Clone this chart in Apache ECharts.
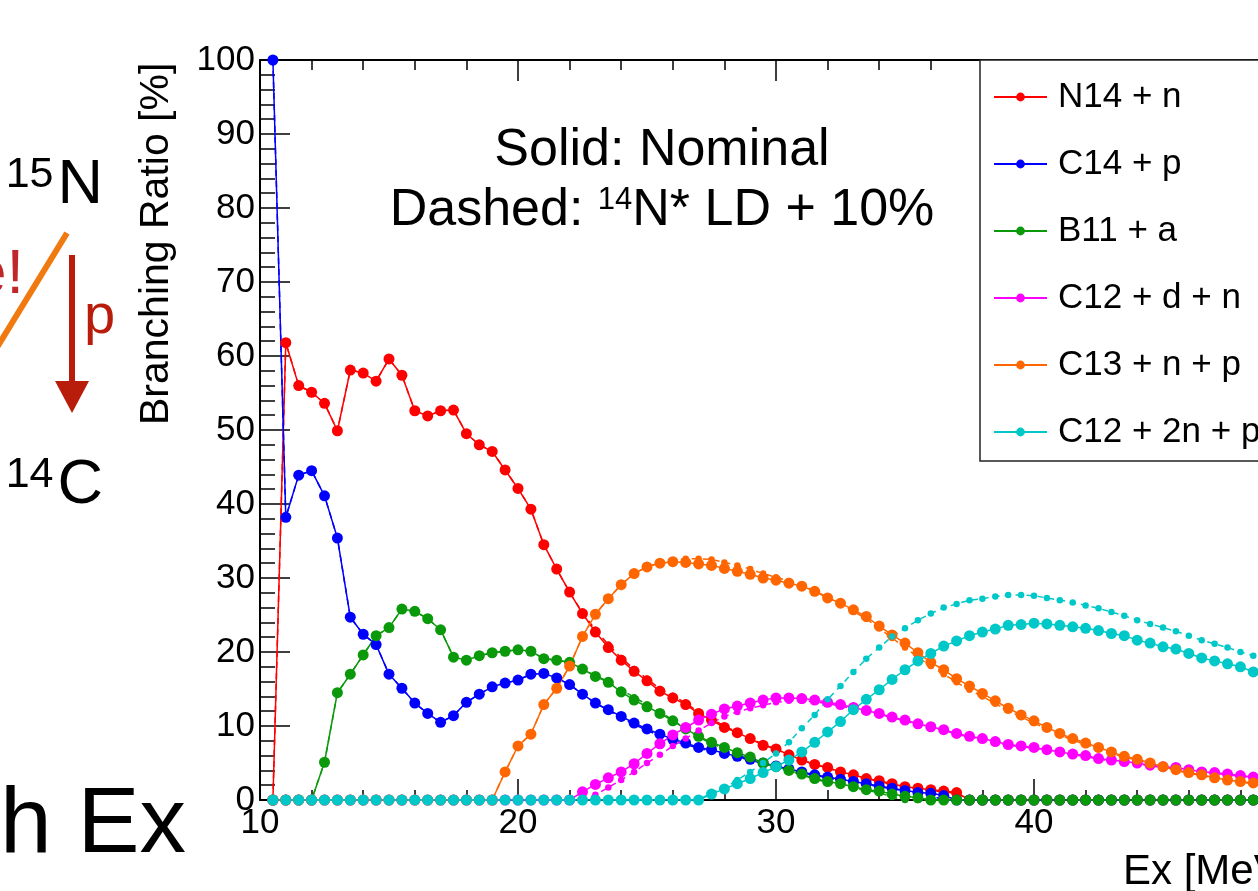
<!DOCTYPE html>
<html lang="en">
<head>
<meta charset="UTF-8">
<title>Branching Ratio vs Ex</title>
<style>
  html, body { margin: 0; padding: 0; background: #fff; }
  #main { width: 1258px; height: 891px; }
</style>
</head>
<body>
<div id="main"></div>

<script src="https://cdn.jsdelivr.net/npm/echarts@6/dist/echarts.min.js"></script>
<script>
// excitation energy [MeV], one point every 0.5 MeV
var energy = [
  10.5, 11, 11.5, 12, 12.5, 13, 13.5, 14, 14.5, 15,
  15.5, 16, 16.5, 17, 17.5, 18, 18.5, 19, 19.5, 20,
  20.5, 21, 21.5, 22, 22.5, 23, 23.5, 24, 24.5, 25,
  25.5, 26, 26.5, 27, 27.5, 28, 28.5, 29, 29.5, 30,
  30.5, 31, 31.5, 32, 32.5, 33, 33.5, 34, 34.5, 35,
  35.5, 36, 36.5, 37, 37.5, 38, 38.5, 39, 39.5, 40,
  40.5, 41, 41.5, 42, 42.5, 43, 43.5, 44, 44.5, 45,
  45.5, 46, 46.5, 47, 47.5, 48, 48.5, 49
];

// ---- solid: nominal ----
var n14n = [
  0, 61.8, 56.0, 55.1, 53.6, 49.9, 58.1, 57.7, 56.6, 59.6,
  57.4, 52.6, 51.9, 52.6, 52.7, 49.5, 48.0, 47.1, 44.6, 42.1,
  39.3, 34.5, 31.2, 28.1, 25.2, 22.7, 20.6, 18.9, 17.4, 16.1,
  14.7, 13.8, 12.9, 11.7, 10.8, 9.8, 9.1, 8.3, 7.4, 6.9,
  6.1, 5.4, 4.8, 4.4, 3.8, 3.4, 2.9, 2.6, 2.2, 1.8,
  1.6, 1.4, 1.2, 1.0, 0, 0, 0, 0, 0, 0,
  0, 0, 0, 0, 0, 0, 0, 0, 0, 0,
  0, 0, 0, 0, 0, 0, 0, 0
];
var c14p = [
  100, 38.2, 43.9, 44.5, 41.1, 35.4, 24.7, 22.4, 21.0, 17.0,
  15.1, 13.1, 11.7, 10.5, 11.4, 13.2, 14.3, 15.3, 15.8, 16.2,
  17.0, 17.1, 16.5, 15.6, 14.3, 13.1, 12.2, 11.3, 10.4, 9.6,
  8.9, 8.2, 7.7, 7.1, 6.8, 6.3, 5.9, 5.5, 5.0, 4.6,
  4.2, 3.8, 3.4, 3.1, 2.8, 2.5, 2.2, 1.9, 1.6, 1.3,
  1.0, 0.9, 0.6, 0, 0, 0, 0, 0, 0, 0,
  0, 0, 0, 0, 0, 0, 0, 0, 0, 0,
  0, 0, 0, 0, 0, 0, 0, 0
];
var b11a = [
  0, 0, 0, 0, 5.1, 14.5, 17.0, 19.6, 22.2, 23.3,
  25.8, 25.5, 24.5, 23.0, 19.3, 18.9, 19.5, 19.9, 20.1, 20.3,
  20.1, 19.1, 18.9, 18.6, 17.7, 16.7, 15.9, 14.6, 13.5, 12.6,
  11.7, 10.7, 9.6, 8.6, 7.8, 7.1, 6.4, 5.8, 5.0, 4.5,
  4.0, 3.5, 2.9, 2.5, 2.2, 1.8, 1.4, 1.2, 0.8, 0.5,
  0.3, 0, 0, 0, 0, 0, 0, 0, 0, 0,
  0, 0, 0, 0, 0, 0, 0, 0, 0, 0,
  0, 0, 0, 0, 0, 0, 0, 0
];
var c12dn = [
  0, 0, 0, 0, 0, 0, 0, 0, 0, 0,
  0, 0, 0, 0, 0, 0, 0, 0, 0, 0,
  0, 0, 0, 0, 1.1, 2.1, 3.0, 3.8, 4.9, 6.3,
  7.6, 8.8, 9.8, 10.8, 11.6, 12.3, 12.7, 13.1, 13.5, 13.8,
  13.8, 13.7, 13.5, 13.2, 12.9, 12.5, 12.1, 11.7, 11.2, 10.8,
  10.3, 9.9, 9.5, 9.0, 8.6, 8.3, 7.9, 7.5, 7.3, 7.1,
  6.8, 6.5, 6.2, 6.0, 5.6, 5.4, 5.2, 5.0, 4.7, 4.5,
  4.4, 4.1, 3.8, 3.7, 3.5, 3.3, 3.1, 2.9
];
var c13np = [
  0, 0, 0, 0, 0, 0, 0, 0, 0, 0,
  0, 0, 0, 0, 0, 0, 0, 0, 3.8, 7.3,
  8.9, 12.9, 15.1, 18.1, 22.1, 25.1, 27.2, 29.1, 30.6, 31.5,
  32.0, 32.2, 32.1, 31.9, 31.7, 31.3, 30.9, 30.5, 30.0, 29.7,
  29.3, 28.9, 28.2, 27.3, 26.6, 25.7, 24.8, 23.5, 22.3, 21.2,
  19.9, 18.6, 17.6, 16.4, 15.4, 14.4, 13.4, 12.4, 11.5, 10.7,
  9.8, 9.0, 8.3, 7.7, 7.1, 6.5, 5.9, 5.5, 5.0, 4.5,
  4.1, 3.7, 3.4, 3.0, 2.7, 2.5, 2.3, 2.1
];
var c122np = [
  0, 0, 0, 0, 0, 0, 0, 0, 0, 0,
  0, 0, 0, 0, 0, 0, 0, 0, 0, 0,
  0, 0, 0, 0, 0, 0, 0, 0, 0, 0,
  0, 0, 0, 0, 0.8, 1.5, 2.2, 2.9, 3.7, 4.5,
  5.4, 6.5, 7.8, 9.2, 10.6, 12.2, 13.6, 14.9, 16.3, 17.6,
  18.8, 19.8, 20.8, 21.5, 22.2, 22.7, 23.1, 23.6, 23.7, 23.9,
  23.8, 23.6, 23.4, 23.2, 22.9, 22.5, 22.2, 21.6, 21.2, 20.7,
  20.4, 19.8, 19.2, 18.8, 18.4, 18.0, 17.3, 16.8
];

// ---- dashed: 14N* level density + 10% ----
var n14nLD = [
  0, 61.8, 56.0, 55.1, 53.6, 49.9, 58.1, 57.7, 56.6, 59.6,
  57.4, 52.6, 51.9, 52.6, 52.7, 49.5, 48.0, 47.1, 44.6, 42.1,
  39.3, 34.5, 31.2, 28.1, 25.3, 23.0, 21.0, 19.2, 17.7, 16.4,
  15.0, 14.1, 13.1, 11.9, 11.0, 10.0, 9.2, 8.4, 7.5, 6.9,
  6.1, 5.4, 4.8, 4.3, 3.8, 3.3, 2.9, 2.5, 2.1, 1.7,
  1.5, 1.3, 1.1, 0.9, 0, 0, 0, 0, 0, 0,
  0, 0, 0, 0, 0, 0, 0, 0, 0, 0,
  0, 0, 0, 0, 0, 0, 0, 0
];
var c14pLD = [
  100, 38.2, 43.9, 44.5, 41.1, 35.4, 24.7, 22.4, 21.0, 17.0,
  15.1, 13.1, 11.7, 10.5, 11.4, 13.2, 14.3, 15.3, 15.8, 16.2,
  17.0, 17.1, 16.5, 15.6, 14.3, 13.1, 12.1, 11.1, 10.2, 9.4,
  8.7, 8.0, 7.5, 7.0, 6.6, 6.2, 5.8, 5.4, 4.9, 4.5,
  4.1, 3.7, 3.3, 3.0, 2.7, 2.4, 2.1, 1.8, 1.5, 1.2,
  0.9, 0.6, 0, 0, 0, 0, 0, 0, 0, 0,
  0, 0, 0, 0, 0, 0, 0, 0, 0, 0,
  0, 0, 0, 0, 0, 0, 0, 0
];
var b11aLD = [
  0, 0, 0, 0, 5.1, 14.5, 17.0, 19.6, 22.2, 23.3,
  25.8, 25.5, 24.5, 23.0, 19.3, 18.9, 19.5, 19.9, 20.1, 20.3,
  20.1, 19.1, 18.9, 18.6, 17.7, 16.8, 16.0, 14.9, 13.9, 12.9,
  11.9, 10.8, 9.6, 8.5, 7.6, 6.9, 6.2, 5.6, 4.9, 4.4,
  3.9, 3.4, 2.8, 2.4, 2.0, 1.6, 1.3, 1.0, 0.4, 0,
  0, 0, 0, 0, 0, 0, 0, 0, 0, 0,
  0, 0, 0, 0, 0, 0, 0, 0, 0, 0,
  0, 0, 0, 0, 0, 0, 0, 0
];
var c12dnLD = [
  0, 0, 0, 0, 0, 0, 0, 0, 0, 0,
  0, 0, 0, 0, 0, 0, 0, 0, 0, 0,
  0, 0, 0, 0, 0, 0.7, 1.7, 2.7, 3.8, 5.0,
  6.1, 7.3, 8.3, 9.4, 10.4, 11.3, 11.9, 12.4, 12.8, 13.2,
  13.4, 13.4, 13.3, 13.0, 12.7, 12.3, 12.0, 11.6, 11.1, 10.7,
  10.2, 9.8, 9.4, 8.9, 8.5, 8.2, 7.8, 7.4, 7.2, 7.0,
  6.7, 6.4, 6.1, 5.9, 5.5, 5.3, 5.1, 4.9, 4.6, 4.4,
  4.3, 4.0, 3.7, 3.6, 3.4, 3.2, 3.0, 2.8
];
var c13npLD = [
  0, 0, 0, 0, 0, 0, 0, 0, 0, 0,
  0, 0, 0, 0, 0, 0, 0, 0, 3.8, 7.3,
  8.9, 12.9, 15.1, 18.1, 22.1, 25.1, 27.2, 29.1, 30.6, 31.5,
  32.1, 32.4, 32.6, 32.6, 32.5, 32.1, 31.7, 31.2, 30.6, 30.1,
  29.6, 29.0, 28.3, 27.4, 26.5, 25.5, 24.5, 23.2, 21.9, 20.6,
  19.3, 18.1, 17.0, 15.9, 14.9, 14.0, 13.0, 12.1, 11.2, 10.4,
  9.6, 8.8, 8.1, 7.5, 6.9, 6.3, 5.8, 5.4, 4.9, 4.4,
  4.0, 3.6, 3.3, 2.9, 2.6, 2.4, 2.2, 2.0
];
var c122npLD = [
  0, 0, 0, 0, 0, 0, 0, 0, 0, 0,
  0, 0, 0, 0, 0, 0, 0, 0, 0, 0,
  0, 0, 0, 0, 0, 0, 0, 0, 0, 0,
  0, 0, 0, 0, 1.0, 1.6, 2.7, 3.8, 5.0, 6.3,
  7.8, 9.7, 11.5, 13.6, 15.4, 17.3, 19.1, 20.6, 22.1, 23.2,
  24.3, 25.2, 26.0, 26.5, 27.0, 27.2, 27.5, 27.7, 27.7, 27.6,
  27.3, 27.0, 26.7, 26.3, 25.9, 25.4, 24.9, 24.3, 23.8, 23.3,
  22.8, 22.2, 21.6, 21.1, 20.6, 20.0, 19.5, 19.0
];

var channels = ['N14 + n', 'C14 + p', 'B11 + a', 'C12 + d + n', 'C13 + n + p', 'C12 + 2n + p'];
var colors = ['#ff0000', '#0000ff', '#0a990a', '#ff00ff', '#ff6600', '#00c8c8'];
var nominal = [n14n, c14p, b11a, c12dn, c13np, c122np];
var modified = [n14nLD, c14pLD, b11aLD, c12dnLD, c13npLD, c122npLD];

var FONT = '"Liberation Sans", Arial, Helvetica, sans-serif';

function pairs(ys) {
  return energy.map(function (x, i) { return [x, ys[i]]; });
}

var series = [];
for (var k = 0; k < channels.length; k++) {
  series.push({
    name: channels[k],
    type: 'line',
    data: pairs(nominal[k]),
    symbol: 'circle',
    symbolSize: 11,
    showAllSymbol: true,
    color: colors[k],
    lineStyle: { width: 1.5, color: colors[k] },
    itemStyle: { color: colors[k] }
  });
  series.push({
    name: channels[k] + ' (LD)',
    type: 'line',
    data: pairs(modified[k]),
    symbol: 'circle',
    symbolSize: 6.5,
    showAllSymbol: true,
    color: colors[k],
    lineStyle: { width: 1.5, color: colors[k], type: [6, 5] },
    itemStyle: { color: colors[k] }
  });
}

var myChart = echarts.init(document.getElementById('main'));

var axisCommon = {
  type: 'value',
  axisLine: { show: true, onZero: false, lineStyle: { color: '#000', width: 2 } },
  splitLine: { show: false }
};

option = {
  animation: false,
  backgroundColor: '#fff',
  textStyle: { fontFamily: FONT },
  grid: { left: 260, top: 60, width: 1032, height: 740, containLabel: false, outerBoundsMode: 'none' },
  legend: {
    data: channels,
    orient: 'vertical',
    left: 980,
    top: 60,
    padding: [17, 110, 9, 13],
    itemGap: 27,
    itemWidth: 53,
    itemHeight: 11,
    borderColor: '#222',
    borderWidth: 1.5,
    backgroundColor: '#fff',
    textStyle: { fontSize: 35, color: '#000', fontFamily: FONT, lineHeight: 40, padding: [0, 0, 0, 6] }
  },
  xAxis: [
    Object.assign({}, axisCommon, {
      position: 'bottom',
      min: 10, max: 50, interval: 10,
      axisTick: { inside: true, length: 21, lineStyle: { color: '#000', width: 1.5 } },
      minorTick: { show: true, splitNumber: 5, length: 10, lineStyle: { color: '#000', width: 1.5 } },
      axisLabel: { fontSize: 35, color: '#000', margin: 6, fontFamily: FONT }
    }),
    Object.assign({}, axisCommon, {
      position: 'top',
      min: 10, max: 50, interval: 10,
      axisTick: { inside: true, length: 21, lineStyle: { color: '#000', width: 1.5 } },
      minorTick: { show: true, splitNumber: 5, length: 10, lineStyle: { color: '#000', width: 1.5 } },
      axisLabel: { show: false }
    })
  ],
  yAxis: [
    Object.assign({}, axisCommon, {
      position: 'left',
      min: 0, max: 100, interval: 10,
      axisTick: { inside: true, length: 30, lineStyle: { color: '#000', width: 1.5 } },
      minorTick: { show: true, splitNumber: 5, length: 15, lineStyle: { color: '#000', width: 1.5 } },
      axisLabel: { fontSize: 35, color: '#000', margin: 5, fontFamily: FONT }
    })
  ],
  graphic: [
    // axis titles
    { type: 'text', x: 157, y: 425, rotation: Math.PI / 2, z: 10,
      style: { text: 'Branching Ratio [%]', fontSize: 41, fontFamily: FONT, fill: '#000',
               align: 'left', verticalAlign: 'middle' } },
    { type: 'text', x: 1123, y: 872, z: 10,
      style: { text: 'Ex [MeV]', fontSize: 42, fontFamily: FONT, fill: '#000',
               align: 'left', verticalAlign: 'middle' } },
    // in-plot note
    { type: 'text', x: 662, y: 151, z: 10,
      style: { text: 'Solid: Nominal', fontSize: 52, fontFamily: FONT, fill: '#000',
               align: 'center', verticalAlign: 'middle' } },
    { type: 'text', x: 662, y: 211, z: 10,
      style: { text: 'Dashed: {sup|14}N* LD + 10%', fontSize: 52, fontFamily: FONT, fill: '#000',
               align: 'center', verticalAlign: 'middle',
               rich: { sup: { fontSize: 31, fontFamily: FONT, verticalAlign: 'top', padding: [0, 0, 22, 0] } } } },
    // slide fragments left of the plot
    { type: 'text', x: 103, y: 186, z: 10,
      style: { text: '{s|15}N', fontSize: 63, fontFamily: FONT, fill: '#000',
               align: 'right', verticalAlign: 'middle',
               rich: { s: { fontSize: 43, fontFamily: FONT, padding: [0, 4, 22, 0] } } } },
    { type: 'text', x: 103, y: 486, z: 10,
      style: { text: '{s|14}C', fontSize: 63, fontFamily: FONT, fill: '#000',
               align: 'right', verticalAlign: 'middle',
               rich: { s: { fontSize: 43, fontFamily: FONT, padding: [0, 4, 22, 0] } } } },
    { type: 'text', x: 24, y: 276, z: 10,
      style: { text: 'e!', fontSize: 63, fontFamily: FONT, fill: '#c0262a',
               align: 'right', verticalAlign: 'middle' } },
    { type: 'line', z: 10, shape: { x1: -4, y1: 349, x2: 67, y2: 233 },
      style: { stroke: '#f07a10', lineWidth: 6 } },
    { type: 'line', z: 10, shape: { x1: 72, y1: 255, x2: 72, y2: 385 },
      style: { stroke: '#b81c0a', lineWidth: 6 } },
    { type: 'polygon', z: 10, shape: { points: [[55, 381], [89, 381], [72, 413]] },
      style: { fill: '#b81c0a' } },
    { type: 'text', x: 84, y: 318, z: 10,
      style: { text: 'p', fontSize: 56, fontFamily: FONT, fill: '#b81c0a',
               align: 'left', verticalAlign: 'middle' } },
    { type: 'text', x: 0, y: 826, z: 10,
      style: { text: 'h Ex', fontSize: 93, fontFamily: FONT, fill: '#000',
               align: 'left', verticalAlign: 'middle' } }
  ],
  series: series
};

myChart.setOption(option);
</script>
</body>
</html>
